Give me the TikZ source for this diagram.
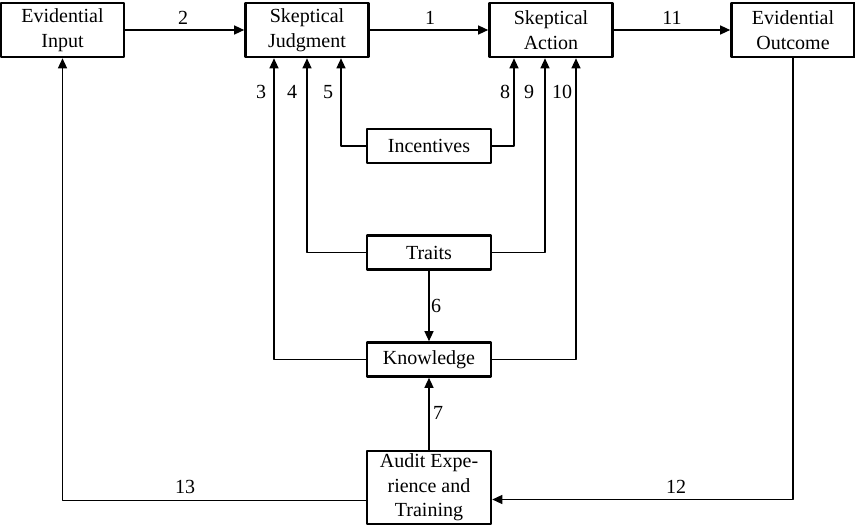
\documentclass[tikz,border=0pt]{standalone}
\usepackage{fontspec}
\setmainfont{Liberation Serif}
\usetikzlibrary{arrows.meta}
\begin{document}
\begin{tikzpicture}[x=1pt,y=-1pt,line join=round,>={Triangle[length=10pt,width=9pt]},
	font=\fontsize{20}{24.5}\selectfont,
	box/.style={draw,line width=2.6pt,inner sep=0pt,align=center,minimum width=123pt,minimum height=54pt},
	sbox/.style={box,minimum width=124pt,minimum height=34pt},
	lnk/.style={line width=1.3pt}]
	\useasboundingbox (0,0) rectangle (855,525);
	\path
	(62.5,30) node[box] (EI) {Evidential\\Input}
	(307,30) node[box] (SJ) {Skeptical\\Judgment}
	(551,30) node[box] (SA) {Skeptical\\Action}
	(793,30) node[box] (EO) {Evidential\\Outcome}
	(429,146) node[sbox] (Inc) {Incentives}
	(429,252.5) node[sbox] (Tr) {Traits}
	(429,359.5) node[sbox] (Kn) {Knowledge}
	(429,487.5) node[sbox,minimum height=73pt] (AE) {Audit Expe-\\rience and\\Training}
	;
	\draw[lnk,->]
	(EI) -- (SJ)
	;
	\draw[lnk,->]
	(SJ) -- (SA)
	;
	\draw[lnk,->]
	(SA) -- (EO)
	;
	% into judgment and action
	\draw[lnk,->] (Kn.west) -| ([xshift=-33pt]SJ.south);
	\draw[lnk,->] (Tr.west) -| (SJ.south);
	\draw[lnk,->] (Inc.west) -| ([xshift=34pt]SJ.south);
	\draw[lnk,->] (Inc.east) -| ([xshift=-37pt]SA.south);
	\draw[lnk,->] (Tr.east) -| ([xshift=-6pt]SA.south);
	\draw[lnk,->] (Kn.east) -| ([xshift=25pt]SA.south);
	\draw[lnk,->] (Tr) -- (Kn);
	\draw[lnk,->] (AE) -- (Kn);
	% feedback loops
	\draw[lnk,->] (EO.south) |- ([yshift=-12pt]AE.east);
	\draw[lnk,->] ([yshift=-13pt]AE.west) -| (EI.south);
	\foreach \t/\x/\y in {2/183/18,1/430/18,11/672/18,3/261/92,4/292/92,5/328/92,8/505/92,9/529/92,10/562/92,6/436/306,7/438/413,13/185/487,12/676/487}
	\node (l\t) at (\x,\y) {\t};
\end{tikzpicture}
\end{document}
